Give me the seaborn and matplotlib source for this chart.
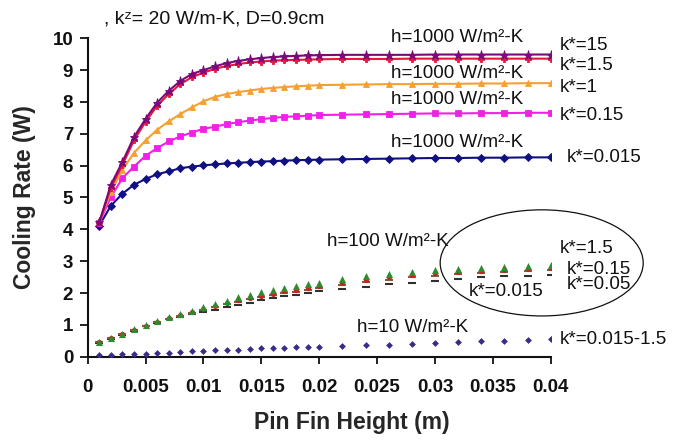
import numpy as np
import pandas as pd
import matplotlib
matplotlib.use("Agg")
import matplotlib.pyplot as plt
from matplotlib.patches import Ellipse
from matplotlib.ticker import FuncFormatter, MultipleLocator
import seaborn as sns

# Pin fin heights (m): 1 mm steps up to 20 mm, then 2 mm steps to 40 mm
height = [0.001, 0.002, 0.003, 0.004, 0.005, 0.006, 0.007, 0.008, 0.009, 0.010,
          0.011, 0.012, 0.013, 0.014, 0.015, 0.016, 0.017, 0.018, 0.019, 0.020,
          0.022, 0.024, 0.026, 0.028, 0.030, 0.032, 0.034, 0.036, 0.038, 0.040]

# h = 1000 W/m2-K, cooling rate (W) for each conductivity ratio k*
h1000_k15 = [4.22, 5.40, 6.12, 6.90, 7.47, 7.98, 8.35, 8.66, 8.88, 9.00,
             9.12, 9.22, 9.29, 9.34, 9.38, 9.41, 9.43, 9.45, 9.46, 9.47,
             9.48, 9.48, 9.48, 9.48, 9.49, 9.49, 9.49, 9.49, 9.49, 9.49]
h1000_k1_5 = [4.22, 5.30, 6.02, 6.80, 7.38, 7.88, 8.25, 8.56, 8.78, 8.92,
              9.04, 9.13, 9.19, 9.24, 9.27, 9.30, 9.31, 9.32, 9.33, 9.34,
              9.35, 9.35, 9.35, 9.36, 9.36, 9.36, 9.36, 9.36, 9.36, 9.36]
h1000_k1 = [4.25, 5.17, 5.87, 6.40, 6.79, 7.13, 7.39, 7.62, 7.83, 8.02,
            8.16, 8.25, 8.31, 8.36, 8.41, 8.44, 8.47, 8.49, 8.51, 8.53,
            8.54, 8.55, 8.56, 8.56, 8.57, 8.57, 8.58, 8.58, 8.59, 8.59]
h1000_k0_15 = [4.21, 5.01, 5.61, 5.97, 6.31, 6.55, 6.76, 6.92, 7.04, 7.16,
               7.22, 7.31, 7.36, 7.42, 7.46, 7.50, 7.53, 7.55, 7.57, 7.59,
               7.60, 7.61, 7.62, 7.63, 7.64, 7.64, 7.65, 7.65, 7.66, 7.66]
h1000_k0_015 = [4.12, 4.74, 5.12, 5.40, 5.58, 5.73, 5.82, 5.92, 5.97, 6.01,
                6.04, 6.07, 6.09, 6.11, 6.13, 6.14, 6.16, 6.17, 6.18, 6.19,
                6.20, 6.21, 6.22, 6.23, 6.24, 6.24, 6.25, 6.25, 6.26, 6.26]

# h = 100 W/m2-K
h100_k1_5 = [0.45, 0.59, 0.71, 0.86, 1.00, 1.12, 1.24, 1.35, 1.45, 1.55,
             1.66, 1.76, 1.86, 1.94, 2.02, 2.08, 2.15, 2.21, 2.28, 2.33,
             2.43, 2.52, 2.60, 2.67, 2.73, 2.76, 2.80, 2.83, 2.86, 2.88]
h100_k0_15 = [0.45, 0.59, 0.71, 0.85, 0.98, 1.10, 1.21, 1.32, 1.41, 1.50,
              1.60, 1.69, 1.78, 1.85, 1.92, 1.98, 2.05, 2.10, 2.17, 2.22,
              2.32, 2.41, 2.49, 2.56, 2.62, 2.66, 2.70, 2.73, 2.76, 2.78]
h100_k0_05 = [0.45, 0.58, 0.70, 0.84, 0.97, 1.09, 1.19, 1.29, 1.38, 1.46,
              1.56, 1.65, 1.73, 1.80, 1.87, 1.93, 1.99, 2.04, 2.11, 2.16,
              2.25, 2.34, 2.42, 2.49, 2.55, 2.59, 2.63, 2.66, 2.69, 2.71]
h100_k0_015 = [0.44, 0.57, 0.69, 0.82, 0.95, 1.06, 1.17, 1.26, 1.34, 1.40,
               1.48, 1.55, 1.62, 1.70, 1.77, 1.83, 1.90, 1.95, 2.00, 2.05,
               2.12, 2.20, 2.27, 2.33, 2.38, 2.44, 2.49, 2.53, 2.55, 2.58]

# h = 10 W/m2-K (all k* collapse onto one curve)
h10_all = [0.05, 0.06, 0.07, 0.08, 0.10, 0.11, 0.13, 0.15, 0.17, 0.19,
           0.20, 0.21, 0.22, 0.24, 0.26, 0.27, 0.28, 0.29, 0.30, 0.31,
           0.34, 0.36, 0.38, 0.41, 0.43, 0.45, 0.48, 0.50, 0.53, 0.56]

sns.set_style("ticks")
plt.rcParams["font.family"] = ["Liberation Sans", "DejaVu Sans"]

fig = plt.figure(figsize=(6.81, 4.40), dpi=100)
ax = fig.add_axes([0.1288, 0.1893, 0.6799, 0.7237])

# h = 1000 curves: lines with markers
h1000 = pd.DataFrame({
    "x": height * 5,
    "q": h1000_k15 + h1000_k1_5 + h1000_k1 + h1000_k0_15 + h1000_k0_015,
    "k": (["15"] * len(height) + ["1.5"] * len(height) + ["1"] * len(height)
          + ["0.15"] * len(height) + ["0.015"] * len(height)),
})
line_style = {
    "15":    ("#7a0a7a", "*", 6.5),
    "1.5":   ("#e8163a", "P", 4.5),
    "1":     ("#f5a030", "^", 4.5),
    "0.15":  ("#f020e8", "s", 4.0),
    "0.015": ("#101080", "D", 3.8),
}
for key in ["0.015", "0.15", "1", "1.5", "15"]:
    color, marker, ms = line_style[key]
    sns.lineplot(data=h1000[h1000["k"] == key], x="x", y="q", ax=ax,
                 color=color, marker=marker, markersize=ms, linewidth=1.5,
                 markeredgewidth=0.6, markeredgecolor=color,
                 estimator=None, legend=False, zorder=3)

# h = 100 points (markers only)
h100_sets = [
    (h100_k0_015, "#303030", "_", 32, 1.5),
    (h100_k0_05, "#8a5a3a", "_", 32, 1.5),
    (h100_k0_15, "#cc2020", "o", 14, 0.0),
    (h100_k1_5, "#2e8b2e", "^", 26, 0.0),
]
for vals, color, marker, s, lw in h100_sets:
    if marker == "_":
        sns.scatterplot(x=height, y=vals, ax=ax, color=color, marker=marker,
                        s=s, linewidth=lw, legend=False, zorder=3)
    else:
        sns.scatterplot(x=height, y=vals, ax=ax, color=color, marker=marker,
                        s=s, linewidth=0, legend=False, zorder=4)

# h = 10 points
sns.scatterplot(x=height, y=h10_all, ax=ax, color="#3a2a8a", marker="D",
                s=12, linewidth=0, legend=False, zorder=3)

ax.set_xlim(0, 0.04)
ax.set_ylim(0, 10)
ax.xaxis.set_major_locator(MultipleLocator(0.005))
ax.yaxis.set_major_locator(MultipleLocator(1))
ax.xaxis.set_major_formatter(FuncFormatter(lambda v, p: f"{v:g}"))
ax.yaxis.set_major_formatter(FuncFormatter(lambda v, p: f"{v:g}"))

for side in ["top", "right"]:
    ax.spines[side].set_visible(False)
for side in ["left", "bottom"]:
    ax.spines[side].set_linewidth(1.5)
    ax.spines[side].set_color("#111111")

ax.tick_params(axis="y", direction="out", length=5.5, width=1.3,
               pad=5.0, labelsize=13.5, colors="#111111")
ax.tick_params(axis="x", direction="out", length=5.0, width=1.3,
               pad=11, labelsize=13.5, colors="#111111")
for lab in ax.get_xticklabels() + ax.get_yticklabels():
    lab.set_fontweight("bold")

ax.set_xlabel("Pin Fin Height (m)", fontsize=16.5, fontweight="bold")
ax.set_ylabel("Cooling Rate (W)", fontsize=16.5, fontweight="bold")
ax.xaxis.set_label_coords(0.57, -0.172)
ax.yaxis.set_label_coords(-0.112, 0.5)


def put(px, py, s, size=13.5, ha="left"):
    fig.text(px / 681, 1 - py / 440, s, fontsize=size, ha=ha, va="center",
             color="#111111")


put(104, 19, ", k\u1dbb= 20 W/m-K, D=0.9cm", size=14)
for y in (37, 73, 100, 142):
    put(391, y, "h=1000 W/m\u00b2-K")
put(560, 45, "k*=15")
put(560, 66, "k*=1.5")
put(560, 87, "k*=1")
put(560, 115, "k*=0.15")
put(567, 157, "k*=0.015")

put(327, 241, "h=100 W/m\u00b2-K")
put(560, 248, "k*=1.5")
put(567, 269, "k*=0.15")
put(567, 284, "k*=0.05")
put(469, 291, "k*=0.015")
put(357, 327, "h=10 W/m\u00b2-K")
put(560, 340, "k*=0.015-1.5")

# Ellipse around the h=100 group at the large-height end
ax.add_patch(Ellipse((0.03922, 2.946), 0.01754, 3.333, fill=False,
                     edgecolor="#111111", linewidth=0.9, clip_on=False,
                     zorder=5))

fig.savefig("out.png", dpi=100)
